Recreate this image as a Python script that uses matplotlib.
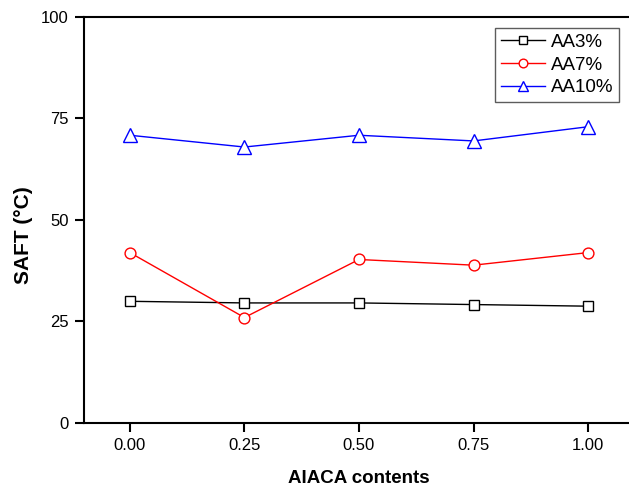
import matplotlib
matplotlib.use("Agg")
import matplotlib.pyplot as plt

plt.rcParams["font.family"] = ["Liberation Sans", "DejaVu Sans"]

# AIACA content levels and SAFT readings for each AA level
aiaca = [0.00, 0.25, 0.50, 0.75, 1.00]
saft_aa3 = [29.9, 29.5, 29.5, 29.1, 28.7]
saft_aa7 = [41.9, 25.9, 40.2, 38.8, 41.9]
saft_aa10 = [70.8, 67.9, 70.8, 69.4, 72.9]

fig = plt.figure(figsize=(6.29, 4.86), dpi=100)
# right edge of the frame falls just outside the image, as in the reference
ax = fig.add_axes([84 / 629, 63.3 / 486, 550 / 629, 406 / 486])

ax.plot(aiaca, saft_aa3, "-s", color="black", label="AA3%", linewidth=1.0,
        markersize=7.2, markerfacecolor="white", markeredgewidth=1.0)
ax.plot(aiaca, saft_aa7, "-o", color="red", label="AA7%", linewidth=1.0,
        markersize=7.8, markerfacecolor="white", markeredgewidth=1.0)
ax.plot(aiaca, saft_aa10, "-^", color="blue", label="AA10%", linewidth=1.0,
        markersize=9.5, markerfacecolor="white", markeredgewidth=1.0)

ax.set_xlim(-0.1, 1.1)
ax.set_ylim(0, 100)
ax.set_xticks(aiaca)
ax.set_xticklabels([f"{v:.2f}" for v in aiaca])
ax.set_yticks([0, 25, 50, 75, 100])

ax.spines["right"].set_visible(False)
for side in ("left", "bottom", "top"):
    ax.spines[side].set_linewidth(1.5)
ax.tick_params(direction="out", length=6.5, width=1.5, labelsize=12, pad=4.5)

ax.set_xlabel("AIACA contents", fontsize=13.5, fontweight="bold", labelpad=12)
ax.set_ylabel("SAFT (°C)", fontsize=15, fontweight="bold")
# the y label sits a bit below the axis middle in the reference
ax.yaxis.set_label_coords(-0.093, 0.462)

leg = ax.legend(loc="upper right", bbox_to_anchor=(0.9727, 0.972), fontsize=13.5,
                frameon=True, fancybox=False, edgecolor="#333333",
                handlelength=2.35, borderpad=0.3, labelspacing=0.3,
                handletextpad=0.32, borderaxespad=0, markerscale=0.8)
leg.get_frame().set_linewidth(1.0)

fig.savefig("out.png", dpi=100)
